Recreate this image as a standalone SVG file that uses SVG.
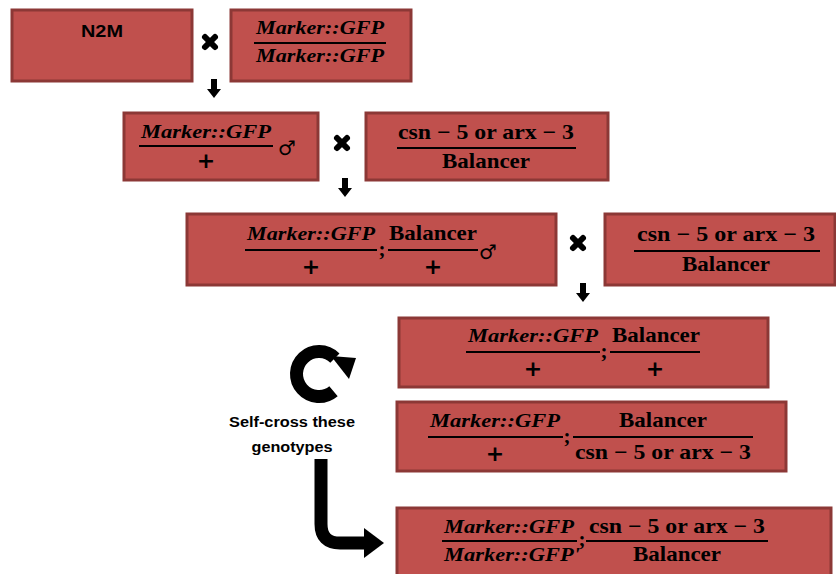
<svg xmlns="http://www.w3.org/2000/svg" width="836" height="574" viewBox="0 0 836 574">
<defs>
<style>
.box{fill:#C0504D;stroke:#8C3836;stroke-width:3}
.m{font-family:"Liberation Serif",serif;font-style:italic;font-weight:bold;font-size:19px;fill:#000;text-anchor:middle}
.r{font-family:"Liberation Serif",serif;font-weight:bold;font-size:21px;fill:#000;text-anchor:middle}
.p{font-family:"DejaVu Sans",sans-serif;font-weight:bold;font-size:22px;fill:#000;text-anchor:middle}
.s{font-family:"Liberation Sans",sans-serif;font-weight:bold;fill:#000;text-anchor:middle}
.sym{font-family:"DejaVu Sans",sans-serif;font-size:20px;fill:#000}
.fl{stroke:#000;stroke-width:2}
.x{stroke:#000;stroke-width:6;stroke-linecap:round}
.thick{fill:none;stroke:#000}
</style>
</defs>
<rect width="836" height="574" fill="#fff"/>

<g id="n2m">
<rect class="box" x="12" y="10" width="180" height="71"/>
<text class="s" x="102" y="37" font-size="17" textLength="42" lengthAdjust="spacingAndGlyphs">N2M</text>
</g>

<g id="parent-gfp">
<rect class="box" x="231" y="10" width="180" height="71"/>
<text class="m" x="320" y="34" textLength="128" lengthAdjust="spacingAndGlyphs">Marker::GFP</text>
<line class="fl" x1="254" y1="43" x2="386" y2="43"/>
<text class="m" x="320" y="62" textLength="128" lengthAdjust="spacingAndGlyphs">Marker::GFP</text>
</g>

<g id="f1-male">
<rect class="box" x="124" y="113" width="194" height="67"/>
<text class="m" x="206" y="138" textLength="130" lengthAdjust="spacingAndGlyphs">Marker::GFP</text>
<line class="fl" x1="139" y1="146" x2="273" y2="146"/>
<text class="p" x="206" y="168">+</text>
<text class="sym" x="278" y="155">♂</text>
</g>

<g id="balancer-1">
<rect class="box" x="366" y="113" width="242" height="67"/>
<text class="r" x="486" y="139" textLength="176" lengthAdjust="spacingAndGlyphs">csn − 5 or arx − 3</text>
<line class="fl" x1="397" y1="148" x2="576" y2="148"/>
<text class="r" x="486" y="168" textLength="88" lengthAdjust="spacingAndGlyphs">Balancer</text>
</g>

<g id="f2-male">
<rect class="box" x="187" y="214" width="369" height="71"/>
<text class="m" x="311" y="240" textLength="128" lengthAdjust="spacingAndGlyphs">Marker::GFP</text>
<line class="fl" x1="245" y1="250" x2="377" y2="250"/>
<text class="p" x="311" y="274">+</text>
<text class="r" x="382" y="256" font-size="18">;</text>
<text class="r" x="433" y="240" textLength="88" lengthAdjust="spacingAndGlyphs">Balancer</text>
<line class="fl" x1="388" y1="250" x2="478" y2="250"/>
<text class="p" x="433" y="274">+</text>
<text class="sym" x="479" y="259">♂</text>
</g>

<g id="balancer-2">
<rect class="box" x="605" y="214" width="230" height="71"/>
<text class="r" x="726" y="241" textLength="178" lengthAdjust="spacingAndGlyphs">csn − 5 or arx − 3</text>
<line class="fl" x1="634" y1="251" x2="820" y2="251"/>
<text class="r" x="726" y="271" textLength="88" lengthAdjust="spacingAndGlyphs">Balancer</text>
</g>

<g id="progeny-a">
<rect class="box" x="399" y="318" width="369" height="69"/>
<text class="m" x="533" y="342" textLength="130" lengthAdjust="spacingAndGlyphs">Marker::GFP</text>
<line class="fl" x1="466" y1="352" x2="600" y2="352"/>
<text class="p" x="533" y="376">+</text>
<text class="r" x="604" y="358" font-size="18">;</text>
<text class="r" x="656" y="342" textLength="88" lengthAdjust="spacingAndGlyphs">Balancer</text>
<line class="fl" x1="610" y1="352" x2="700" y2="352"/>
<text class="p" x="655" y="376">+</text>
</g>

<g id="progeny-b">
<rect class="box" x="397" y="402" width="389" height="69"/>
<text class="m" x="495" y="427" textLength="130" lengthAdjust="spacingAndGlyphs">Marker::GFP</text>
<line class="fl" x1="428" y1="437" x2="563" y2="437"/>
<text class="p" x="495" y="461">+</text>
<text class="r" x="567" y="443" font-size="18">;</text>
<text class="r" x="663" y="427" textLength="88" lengthAdjust="spacingAndGlyphs">Balancer</text>
<line class="fl" x1="573" y1="437" x2="753" y2="437"/>
<text class="r" x="663" y="459" textLength="176" lengthAdjust="spacingAndGlyphs">csn − 5 or arx − 3</text>
</g>

<g id="final">
<rect class="box" x="397" y="508" width="434" height="70"/>
<text class="m" x="509" y="533" textLength="130" lengthAdjust="spacingAndGlyphs">Marker::GFP</text>
<line class="fl" x1="442" y1="541" x2="577" y2="541"/>
<text class="m" x="512" y="561" textLength="136" lengthAdjust="spacingAndGlyphs">Marker::GFP'</text>
<text class="r" x="582" y="546" font-size="18">;</text>
<text class="r" x="677" y="533" textLength="176" lengthAdjust="spacingAndGlyphs">csn − 5 or arx − 3</text>
<line class="fl" x1="586" y1="541" x2="768" y2="541"/>
<text class="r" x="677" y="561" textLength="88" lengthAdjust="spacingAndGlyphs">Balancer</text>
</g>

<g id="self-cross-label">
<text class="s" x="292" y="427" font-size="14" textLength="126" lengthAdjust="spacingAndGlyphs">Self-cross these</text>
<text class="s" x="292" y="452" font-size="14" textLength="81" lengthAdjust="spacingAndGlyphs">genotypes</text>
</g>

<g id="connectors">
<g id="cross1"><line class="x" x1="205" y1="37" x2="215" y2="47"/><line class="x" x1="215" y1="37" x2="205" y2="47"/></g>
<g id="cross2"><line class="x" x1="337" y1="138" x2="347" y2="148"/><line class="x" x1="347" y1="138" x2="337" y2="148"/></g>
<g id="cross3"><line class="x" x1="573" y1="238" x2="583" y2="248"/><line class="x" x1="583" y1="238" x2="573" y2="248"/></g>
<polygon points="211,79 217,79 217,89 221,89 214,98 207,89 211,89"/>
<polygon points="342,178 348,178 348,188 352,188 345,197 338,188 342,188"/>
<polygon points="580,283 586,283 586,293 590,293 583,302 576,293 580,293"/>
<path class="thick" stroke-width="13" d="M333.5,391.2 A22.5,22.5 0 1 1 334.9,358.1"/>
<polygon points="331,356 356,358 349,379"/>
<path class="thick" stroke-width="13" d="M321,459 L321,524 Q321,543 340,543 L366,543"/>
<polygon points="364,528 384,543 364,558"/>
</g>
</svg>
